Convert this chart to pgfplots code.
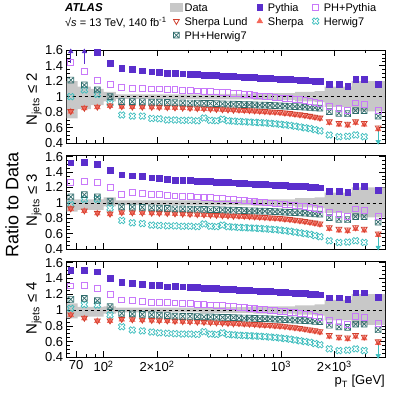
\documentclass[border=0pt]{standalone}
\usepackage{fontspec}
\setmainfont{Liberation Sans}
\usepackage{pgfplots}
\usepackage{pgfplotstable}
\pgfplotsset{compat=1.18}

\definecolor{cPyth}{HTML}{5A2ECC}
\definecolor{cPHPyth}{HTML}{C878FA}
\definecolor{cPHHer}{HTML}{2E6B6B}
\definecolor{cShe}{HTML}{F4675A}
\definecolor{cLund}{HTML}{D0402E}
\definecolor{cHer}{HTML}{3DBDBD}
\definecolor{cData}{HTML}{C8C8C8}

% box with a cross inside (PH+Herwig7)
\pgfdeclareplotmark{sqx}{%
  \pgfpathrectangle{\pgfpoint{-\pgfplotmarksize}{-\pgfplotmarksize}}{\pgfpoint{2\pgfplotmarksize}{2\pgfplotmarksize}}%
  \pgfpathmoveto{\pgfpoint{-0.7\pgfplotmarksize}{-0.7\pgfplotmarksize}}\pgfpathlineto{\pgfpoint{0.7\pgfplotmarksize}{0.7\pgfplotmarksize}}%
  \pgfpathmoveto{\pgfpoint{-0.7\pgfplotmarksize}{0.7\pgfplotmarksize}}\pgfpathlineto{\pgfpoint{0.7\pgfplotmarksize}{-0.7\pgfplotmarksize}}%
  \pgfusepathqstroke}
% open cross rotated by 45 degrees (Herwig7)
\pgfdeclareplotmark{ocross}{%
  \pgftransformrotate{45}%
  \pgfpathmoveto{\pgfpoint{0.33\pgfplotmarksize}{\pgfplotmarksize}}%
  \pgfpathlineto{\pgfpoint{0.33\pgfplotmarksize}{0.33\pgfplotmarksize}}%
  \pgfpathlineto{\pgfpoint{\pgfplotmarksize}{0.33\pgfplotmarksize}}%
  \pgfpathlineto{\pgfpoint{\pgfplotmarksize}{-0.33\pgfplotmarksize}}%
  \pgfpathlineto{\pgfpoint{0.33\pgfplotmarksize}{-0.33\pgfplotmarksize}}%
  \pgfpathlineto{\pgfpoint{0.33\pgfplotmarksize}{-\pgfplotmarksize}}%
  \pgfpathlineto{\pgfpoint{-0.33\pgfplotmarksize}{-\pgfplotmarksize}}%
  \pgfpathlineto{\pgfpoint{-0.33\pgfplotmarksize}{-0.33\pgfplotmarksize}}%
  \pgfpathlineto{\pgfpoint{-\pgfplotmarksize}{-0.33\pgfplotmarksize}}%
  \pgfpathlineto{\pgfpoint{-\pgfplotmarksize}{0.33\pgfplotmarksize}}%
  \pgfpathlineto{\pgfpoint{-0.33\pgfplotmarksize}{0.33\pgfplotmarksize}}%
  \pgfpathlineto{\pgfpoint{-0.33\pgfplotmarksize}{\pgfplotmarksize}}%
  \pgfpathclose\pgfusepathqstroke}

% first ten bins, one table per panel
\pgfplotstableread{
pt pyt php phh she lun her
65.35 nan 1.44 1.214 0.807 0.812 1.00
77.96 nan 1.32 1.15 0.85 0.855 1.086
92.27 1.575 1.214 1.086 0.864 0.869 1.03
108.8 1.43 1.16 1.00 0.88 0.885 0.914
126.6 1.365 1.115 0.936 0.87 0.875 0.764
145.3 1.35 1.11 0.936 0.865 0.87 0.75
165.4 1.334 1.105 0.934 0.864 0.869 0.75
186.9 1.32 1.10 0.93 0.862 0.867 0.72
206.2 1.313 1.10 0.928 0.86 0.865 0.715
228.8 1.30 1.095 0.925 0.858 0.863 0.70
}\lowT
\pgfplotstableread{
pt pyt php phh she lun her
65.35 1.52 1.26 1.075 0.92 0.925 0.976
77.96 1.53 1.275 1.105 0.893 0.898 1.045
92.27 1.50 1.26 1.075 0.862 0.867 1.045
108.8 1.42 1.195 1.02 0.852 0.857 0.93
126.6 1.365 1.11 0.948 0.87 0.875 0.77
145.3 1.35 1.13 0.945 0.868 0.873 0.74
165.4 1.34 1.12 0.94 0.866 0.871 0.73
186.9 1.325 1.11 0.935 0.864 0.869 0.71
206.2 1.315 1.105 0.93 0.862 0.867 0.705
228.8 1.305 1.098 0.928 0.86 0.865 0.70
}\lowM
\pgfplotstableread{
pt pyt php phh she lun her
65.35 1.508 1.305 1.136 0.937 0.942 1.02
77.96 1.508 1.317 1.148 0.894 0.899 1.07
92.27 1.486 1.275 1.118 0.86 0.865 1.063
108.8 1.40 1.203 1.042 0.86 0.865 0.937
126.6 1.35 1.127 0.958 0.88 0.885 0.788
145.3 1.339 1.12 0.95 0.875 0.88 0.746
165.4 1.326 1.105 0.945 0.87 0.875 0.735
186.9 1.317 1.10 0.94 0.866 0.871 0.72
206.2 1.31 1.10 0.935 0.862 0.867 0.71
228.8 1.296 1.095 0.93 0.86 0.865 0.705
}\lowB
% higher bins, alike in the three panels
\pgfplotstableread{
pt pyt php phh she lun her
252.8 1.298 1.09 0.922 0.855 0.86 0.70
279.4 1.295 1.085 0.92 0.852 0.857 0.695
307.2 1.29 1.08 0.918 0.848 0.853 0.695
337.8 1.285 1.075 0.916 0.845 0.85 0.69
368.3 1.28 1.07 0.914 0.842 0.847 0.725
400.6 1.276 1.065 0.912 0.838 0.843 0.695
433.0 1.272 1.06 0.91 0.835 0.84 0.69
468.1 1.268 1.055 0.907 0.831 0.836 0.71
502.9 1.264 1.05 0.905 0.828 0.833 0.69
540.0 1.26 1.045 0.903 0.824 0.829 0.685
580.0 1.256 1.038 0.90 0.82 0.832 0.68
621.2 1.252 1.031 0.898 0.816 0.828 0.677
664.4 1.248 1.024 0.896 0.812 0.824 0.673
710.9 1.245 1.017 0.894 0.808 0.82 0.67
759.8 1.242 1.01 0.892 0.804 0.816 0.666
811.8 1.238 1.004 0.89 0.80 0.812 0.662
867.0 1.235 0.998 0.888 0.796 0.808 0.657
925.2 1.232 0.992 0.885 0.792 0.804 0.652
987.2 1.228 0.985 0.882 0.787 0.80 0.645
1053 1.225 0.979 0.879 0.78 0.793 0.638
1124 1.22 0.973 0.876 0.773 0.786 0.63
1199 1.217 0.967 0.873 0.765 0.778 0.62
1279 1.213 0.96 0.87 0.757 0.77 0.61
1365 1.21 0.95 0.866 0.748 0.761 0.60
1457 1.205 0.94 0.862 0.738 0.751 0.59
1554 1.20 0.925 0.857 0.727 0.74 0.575
1659 1.195 0.91 0.852 0.715 0.728 0.56
1872 1.155 0.87 0.807 0.66 0.68 0.507
2123 1.155 0.85 0.786 0.64 0.66 0.485
2376 1.135 0.82 0.78 0.63 0.65 0.49
2635 1.22 0.92 0.82 0.66 0.68 0.507
2947 1.22 0.905 0.82 0.64 0.66 0.485
3533 1.16 0.825 0.75 0.58 0.60 nan
}\high

\pgfplotsset{
  every axis/.append style={
    scale only axis, width=318.3pt, anchor=south west,
    xmin=62, xmax=3860, ymin=0.4,
    xtick={70,100,200,1000,2000},
    minor xtick={80,90,300,400,500,600,700,800,900,3000},
    ytick={0.4,0.6,0.8,1,1.2,1.4,1.6},
    minor y tick num=3,
    tick align=inside, major tick length=6pt, minor tick length=3pt,
    every tick/.append style={black, line width=0.5pt},
    axis line style={black, line width=0.7pt},
    yticklabel style={font=\fontsize{13}{15}\selectfont},
    xticklabel style={font=\fontsize{13}{15}\selectfont},
    /pgf/number format/assume math mode=true,
    clip marker paths=false,
  },
  stPyth/.style={only marks, mark=square*, mark size=2.9pt, color=cPyth},
  stPHPyth/.style={only marks, mark=square, mark size=2.9pt, color=cPHPyth, mark options={line width=0.8pt}},
  stPHHer/.style={only marks, mark=sqx, mark size=2.9pt, color=cPHHer, mark options={line width=0.7pt}},
  stShe/.style={only marks, mark=triangle*, mark size=3.3pt, color=cShe},
  stLund/.style={only marks, mark=triangle, mark size=3.3pt, color=cLund, mark options={rotate=180, line width=0.8pt}},
  stHer/.style={only marks, mark=ocross, mark size=3.5pt, color=cHer, mark options={line width=0.7pt}},
}

\newcommand{\series}[1]{%
  \addplot[black, dashed, line width=0.5pt, forget plot] coordinates {(62,1) (3860,1)};
  \addplot[stHer, forget plot] table[x=pt, y=her]{#1};
  \addplot[stHer, forget plot] table[x=pt, y=her]{\high};
  \addplot[stShe, forget plot] table[x=pt, y=she]{#1};
  \addplot[stShe, forget plot] table[x=pt, y=she]{\high};
  \addplot[stLund, forget plot] table[x=pt, y=lun]{#1};
  \addplot[stLund, forget plot] table[x=pt, y=lun]{\high};
  \addplot[stPHHer, forget plot] table[x=pt, y=phh]{#1};
  \addplot[stPHHer, forget plot] table[x=pt, y=phh]{\high};
  \addplot[stPHPyth, forget plot] table[x=pt, y=php]{#1};
  \addplot[stPHPyth, forget plot] table[x=pt, y=php]{\high};
  \addplot[stPyth, forget plot] table[x=pt, y=pyt]{#1};
  \addplot[stPyth, forget plot] table[x=pt, y=pyt]{\high};
  % Herwig7 below the range in the last bin
  \addplot[cHer, only marks, mark=triangle*, mark size=2.6pt, mark options={rotate=180}, forget plot,
    error bars/.cd, y dir=plus, y explicit, error mark=none, error bar style={line width=0.7pt}]
    coordinates {(3533,0.42) += (0,0.19)};
}

\begin{document}
\begin{tikzpicture}
\useasboundingbox (0,0) rectangle (407pt,395pt);

% top panel: N_jets <= 2
\begin{semilogxaxis}[at={(66.7pt,251.7pt)}, height=93.3pt, ymax=1.6, xticklabels={},
  legend columns=3, legend cell align=left,
  legend style={at={(axis description cs:0.3245,1.536)}, anchor=north west, draw=none, fill=none,
    font=\fontsize{11}{13}\selectfont, inner sep=0pt, row sep=0pt,
    nodes={inner xsep=2pt, inner ysep=0pt, text height=11pt, text depth=3pt},
    /tikz/every even column/.append style={column sep=4pt}}]
\addplot[fill=cData, draw=none, forget plot] coordinates {(62,1.20) (71.4,1.20) (71.4,1.13) (84.8,1.13) (84.8,1.10) (100.2,1.10) (100.2,1.06) (117.4,1.06)
  (117.4,1.03) (350,1.03) (350,1.035) (700,1.035) (700,1.045) (1200,1.045) (1200,1.06) (1550,1.06) (1550,1.07) (1760,1.07) (1760,1.13) (2500,1.13) (2500,1.20) (3860,1.20)
  (3860,0.81) (2500,0.81) (2500,0.87) (1760,0.87) (1760,0.93) (1550,0.93) (1550,0.94) (1200,0.94) (1200,0.955) (700,0.955) (700,0.965) (350,0.965) (350,0.97) (117.4,0.97)
  (117.4,0.94) (100.2,0.94) (100.2,0.89) (84.8,0.89) (84.8,0.84) (71.4,0.84) (71.4,0.72) (62,0.72)};
\series{\lowT}
\addplot[cPyth, only marks, mark=triangle*, mark size=2.6pt, forget plot,
  error bars/.cd, y dir=minus, y explicit, error mark=none, error bar style={line width=0.7pt}]
  coordinates {(65.35,1.58) -= (0,0.145) (77.96,1.58) -= (0,0.16)};
\addlegendimage{legend image code/.code={\fill[cData] (-6pt,-4pt) rectangle (6pt,4pt);}}
\addlegendimage{legend image code/.code={\path[draw=cPyth, fill=cPyth] plot[mark=square*, mark size=2.9pt] coordinates {(0pt,0pt)}; \path (-6pt,0pt) (6pt,0pt);}}
\addlegendimage{legend image code/.code={\path[draw=cPHPyth, line width=0.8pt] plot[mark=square, mark size=2.9pt] coordinates {(0pt,0pt)}; \path (-6pt,0pt) (6pt,0pt);}}
\addlegendimage{legend image code/.code={\path[draw=cLund, line width=0.8pt] plot[mark=triangle, mark size=3.3pt, mark options={rotate=180}] coordinates {(0pt,0pt)}; \path (-6pt,0pt) (6pt,0pt);}}
\addlegendimage{legend image code/.code={\path[draw=cShe, fill=cShe] plot[mark=triangle*, mark size=3.3pt] coordinates {(0pt,0pt)}; \path (-6pt,0pt) (6pt,0pt);}}
\addlegendimage{legend image code/.code={\path[draw=cHer, line width=0.7pt] plot[mark=ocross, mark size=3.5pt] coordinates {(0pt,0pt)}; \path (-6pt,0pt) (6pt,0pt);}}
\addlegendimage{legend image code/.code={\path[draw=cPHHer, line width=0.7pt] plot[mark=sqx, mark size=2.9pt] coordinates {(0pt,0pt)}; \path (-6pt,0pt) (6pt,0pt);}}
\legend{Data, Pythia, PH+Pythia, Sherpa Lund, Sherpa, Herwig7, PH+Herwig7}
\end{semilogxaxis}

% middle panel: N_jets <= 3
\begin{semilogxaxis}[at={(66.7pt,146pt)}, height=94pt, ymax=1.62, xticklabels={}]
\addplot[fill=cData, draw=none, forget plot] coordinates {(62,1.045) (71.4,1.045) (100.2,1.045) (100.2,1.07) (117.4,1.07)
  (117.4,1.03) (350,1.03) (350,1.035) (700,1.035) (700,1.045) (1200,1.045) (1200,1.06) (1550,1.06) (1550,1.07) (1760,1.07) (1760,1.13) (2500,1.13) (2500,1.20) (3860,1.20)
  (3860,0.81) (2500,0.81) (2500,0.87) (1760,0.87) (1760,0.93) (1550,0.93) (1550,0.94) (1200,0.94) (1200,0.955) (700,0.955) (700,0.965) (350,0.965) (350,0.97) (117.4,0.97)
  (117.4,0.953) (100.2,0.953) (100.2,0.907) (71.4,0.907) (71.4,0.885) (62,0.885)};
\series{\lowM}
\end{semilogxaxis}

% bottom panel: N_jets <= 4
\begin{semilogxaxis}[at={(66.7pt,37.7pt)}, height=95.6pt, ymax=1.613,
  xticklabels={70, 10\textsuperscript{2}, 2×10\textsuperscript{2}, 10\textsuperscript{3}, 2×10\textsuperscript{3}},
  xlabel={p\textsubscript{T} [GeV]},
  xlabel style={font=\fontsize{13}{15}\selectfont, at={(rel axis cs:1,0)}, anchor=north east, yshift=-18pt, inner sep=0pt}]
\addplot[fill=cData, draw=none, forget plot] coordinates {(62,1.085) (71.4,1.085) (71.4,1.04) (100.2,1.04) (100.2,1.045) (117.4,1.045)
  (117.4,1.03) (350,1.03) (350,1.035) (700,1.035) (700,1.045) (1200,1.045) (1200,1.06) (1550,1.06) (1550,1.07) (1760,1.07) (1760,1.13) (2500,1.13) (2500,1.20) (3860,1.20)
  (3860,0.81) (2500,0.81) (2500,0.87) (1760,0.87) (1760,0.93) (1550,0.93) (1550,0.94) (1200,0.94) (1200,0.955) (700,0.955) (700,0.965) (350,0.965) (350,0.97) (117.4,0.97)
  (117.4,0.955) (100.2,0.955) (100.2,0.915) (71.4,0.915) (71.4,0.895) (62,0.895)};
\series{\lowB}
\end{semilogxaxis}

\node[rotate=90, font=\fontsize{18}{20}\selectfont] at (12pt,190pt) {Ratio to Data};
\node[rotate=90, font=\fontsize{15}{17}\selectfont] at (34pt,296pt) {N\textsubscript{jets} ≤ 2};
\node[rotate=90, font=\fontsize{15}{17}\selectfont] at (34pt,195pt) {N\textsubscript{jets} ≤ 3};
\node[rotate=90, font=\fontsize{15}{17}\selectfont] at (34pt,87pt) {N\textsubscript{jets} ≤ 4};
\node[anchor=west, inner sep=0pt, font=\fontsize{11.5}{13}\selectfont\bfseries\itshape] at (65pt,387.5pt) {ATLAS};
\node[anchor=west, inner sep=0pt, font=\fontsize{11}{13}\selectfont] at (65pt,372.5pt) {√\textit{s} = 13 TeV, 140 fb\textsuperscript{-1}};
\end{tikzpicture}
\end{document}
